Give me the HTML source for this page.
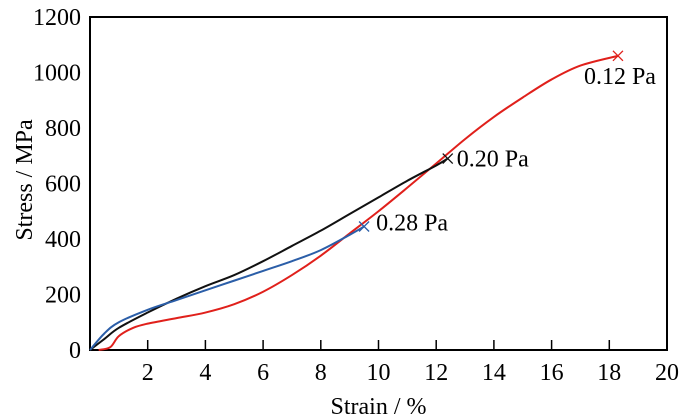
<!DOCTYPE html>
<html><head><meta charset="utf-8"><style>
body{margin:0;background:#fff}
svg{display:block;font-family:"Liberation Serif",serif}
</style></head><body>
<svg id="c" width="685" height="420"></svg>
<script>
const xTicks=[2,4,6,8,10,12,14,16,18,20];
const yTicks=[0,200,400,600,800,1000,1200];
const redX=[0.3,0.7,1,1.5,2,3,4,5,6,7,8,9,10,11,12,13,14,15,16,17,18.3];
const redY=[0,10,50,80,95,115,135,165,210,270,340,420,500,585,672,760,840,910,975,1025,1060];
const blackX=[0,0.5,1,2,3,4,5,6,7,8,9,10,11,12,12.4];
const blackY=[0,40,80,135,185,230,270,320,375,430,490,550,610,665,690];
const blueX=[0,0.5,1,2,3,4,5,6,7,8,9,9.5];
const blueY=[0,60,100,145,180,215,250,285,320,360,415,445];
const labels=["0.12 Pa","0.20 Pa","0.28 Pa"];
const NS="http://www.w3.org/2000/svg";
const svg=document.getElementById('c');
const X0=90,X1=667,Y0=350,Y1=17;
const sx=v=>X0+v/20*(X1-X0), sy=v=>Y0-v/1200*(Y0-Y1);
function mk(t,a){const e=document.createElementNS(NS,t);for(const k in a)e.setAttribute(k,a[k]);svg.appendChild(e);return e;}
let f=mk('rect',{x:X0,y:Y1,width:X1-X0,height:Y0-Y1,fill:'none',stroke:'#000','stroke-width':2});


xTicks.forEach(v=>{
  if(v<20){let t=mk('line',{x1:sx(v),x2:sx(v),y1:Y0,y2:Y0-10,stroke:'#000','stroke-width':1.5});
  
  }
  let l=mk('text',{x:sx(v),y:380,'font-size':24,'text-anchor':'middle'});l.textContent=v;
  
  
});
yTicks.forEach(v=>{
  let l=mk('text',{x:81,y:sy(v)+8,'font-size':24,'text-anchor':'end'});l.textContent=v;
  
  
});
let xt=mk('text',{x:sx(10),y:414,'font-size':24,'text-anchor':'middle'});xt.textContent='Strain / %';


let yt=mk('text',{x:0,y:0,'font-size':24,'text-anchor':'middle',transform:'translate(32,180) rotate(-90)'});yt.textContent='Stress / MPa';


function path(xs,ys){let p=xs.map((x,i)=>[sx(x),sy(ys[i])]);let d='M'+p[0][0]+','+p[0][1];
 for(let i=0;i<p.length-1;i++){const a=p[i-1]||p[i],b=p[i],c=p[i+1],e=p[i+2]||c;
 d+=` C${b[0]+(c[0]-a[0])/6},${b[1]+(c[1]-a[1])/6} ${c[0]-(e[0]-b[0])/6},${c[1]-(e[1]-b[1])/6} ${c[0]},${c[1]}`;}return d;}
const series=[[redX,redY,'#e0201b','series-0-12-pa',labels[0],-34,28],[blackX,blackY,'#111','series-0-20-pa',labels[1],9,8],[blueX,blueY,'#2b5ea8','series-0-28-pa',labels[2],12,4]];
series.forEach(s=>{
  let p=mk('path',{d:path(s[0],s[1]),fill:'none',stroke:s[2],'stroke-width':2});
  
  
  const ex=sx(s[0][s[0].length-1]),ey=sy(s[1][s[1].length-1]);
  let m=mk('path',{d:`M${ex-5},${ey-5}L${ex+5},${ey+5}M${ex-5},${ey+5}L${ex+5},${ey-5}`,stroke:s[2],'stroke-width':1.3});
  
  
  let l=mk('text',{x:ex+s[5],y:ey+s[6],'font-size':24});
  l.textContent=s[4];
  
  
});
</script>
</body></html>
